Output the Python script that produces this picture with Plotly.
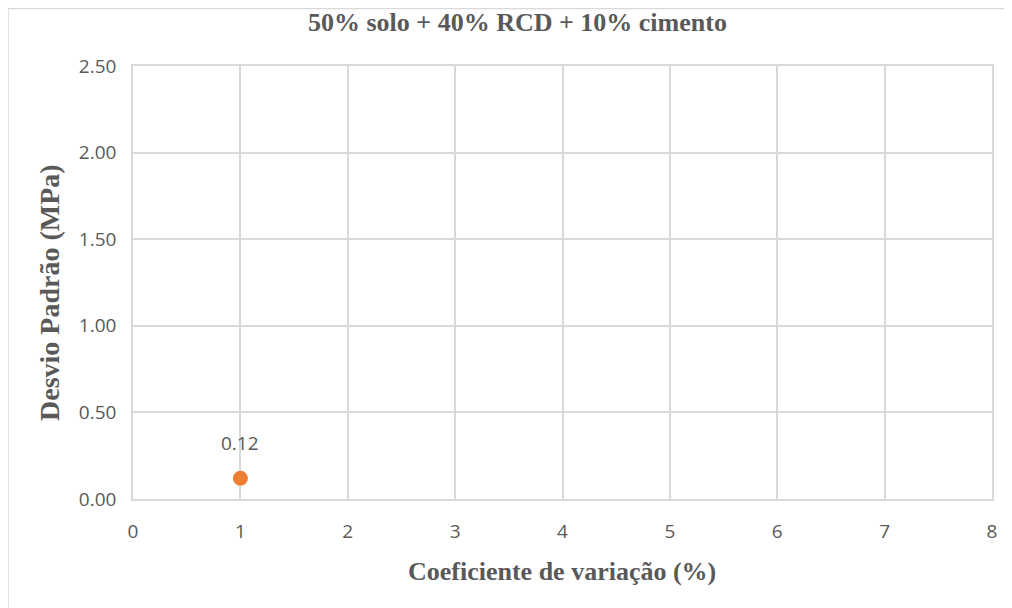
import plotly.graph_objects as go

# Data
x_vals = [1]
y_vals = [0.12]
point_labels = ["0.12"]
title_text = "50% solo + 40% RCD + 10% cimento"
x_title = "Coeficiente de variação (%)"
y_title = "Desvio Padrão (MPa)"
x_ticks = [0, 1, 2, 3, 4, 5, 6, 7, 8]
y_ticks = [0, 0.5, 1.0, 1.5, 2.0, 2.5]

# the page body has an 8px margin, so work in page pixels and subtract it
OFF = 8
W, H = 1012 - OFF, 608 - OFF
ml, mt = 133 - OFF, 66 - OFF
mr = 1012 - 992
mb = 608 - 499
pw, ph = W - ml - mr, H - mt - mb

def px_x(p):
    return (p - OFF - ml) / pw

def px_y(p):
    return (H + OFF - mb - p) / ph

grid = "#d9d9d9"
txt = "#595959"
serif = "Liberation Serif"
sans = "Open Sans"

fig = go.Figure()
fig.add_trace(go.Scatter(
    x=x_vals, y=y_vals, mode="markers",
    marker=dict(color="#ED7D31", size=15),
    hoverinfo="x+y", showlegend=False,
))
for xv, yv, lab in zip(x_vals, y_vals, point_labels):
    fig.add_annotation(x=xv, y=yv, text=lab, showarrow=False, yshift=35,
                       font=dict(family=sans, size=19, color=txt))

# chart title and axis titles
fig.add_annotation(xref="paper", yref="paper", x=px_x(517), y=px_y(23),
                   xanchor="center", yanchor="middle", showarrow=False,
                   text=title_text,
                   font=dict(family=serif, size=26, color=txt, weight="bold"))
fig.add_annotation(xref="paper", yref="paper", x=px_x(562), y=px_y(571),
                   xanchor="center", yanchor="middle", showarrow=False,
                   text=x_title,
                   font=dict(family=serif, size=26, color=txt, weight="bold"))
fig.add_annotation(xref="paper", yref="paper", x=px_x(49), y=px_y(293),
                   xanchor="center", yanchor="middle", showarrow=False,
                   text=y_title, textangle=-90,
                   font=dict(family=serif, size=28, color=txt, weight="bold"))

fig.update_layout(
    width=W, height=H,
    margin=dict(l=ml, r=mr, t=mt, b=mb),
    paper_bgcolor="white", plot_bgcolor="white",
    xaxis=dict(range=[0, 8], tickvals=x_ticks, ticktext=[str(v) for v in x_ticks],
               showgrid=True, gridcolor=grid, gridwidth=1.5, zeroline=False,
               showline=True, linecolor=grid, linewidth=1.5, mirror=True,
               ticks="", ticklabelstandoff=14,
               tickfont=dict(family=sans, size=19, color=txt)),
    yaxis=dict(range=[0, 2.5], tickvals=y_ticks, ticktext=[f"{v:.2f}" for v in y_ticks],
               showgrid=True, gridcolor=grid, gridwidth=1.5, zeroline=False,
               showline=True, linecolor=grid, linewidth=1.5, mirror=True,
               ticks="", ticklabelstandoff=11,
               tickfont=dict(family=sans, size=19, color=txt)),
)

# outer chart border (left and top visible, extends past right and bottom edges)
fig.add_shape(type="rect", xref="paper", yref="paper",
              x0=px_x(8), x1=px_x(1030), y0=px_y(630), y1=px_y(8.5),
              line=dict(color=grid, width=1.5), fillcolor="rgba(0,0,0,0)", layer="below")

fig.write_html("out.html")
